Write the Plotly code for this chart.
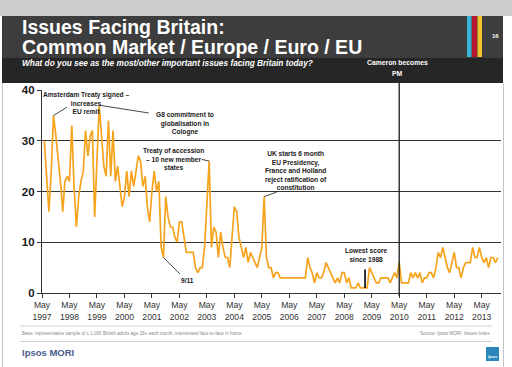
import plotly.graph_objects as go
import pandas as pd

# ---------------- data ----------------
START_MONTH = "1997-06-01"
eu_share = [
    30, 22, 16, 24, 35, 31, 27, 22, 16, 22,
    23, 22, 33, 21, 13, 19, 22, 24, 32, 27,
    31, 32, 15, 26, 37, 31, 25, 23, 34, 23,
    32, 22, 25, 21, 17, 19, 24, 19, 24, 21,
    24, 27, 26, 21, 23, 17, 14, 20, 24, 20,
    22, 9, 7, 19, 15, 13, 13, 11, 10, 14,
    14, 11, 8, 8, 8, 8, 5, 4, 5, 5,
    9, 18, 26, 9, 13, 12, 7, 12, 9, 7,
    7, 5, 11, 17, 16, 11, 9, 7, 9, 6,
    8, 7, 6, 5, 7, 9, 19, 7, 5, 5,
    3, 4, 4, 3, 3, 3, 3, 3, 3, 3,
    3, 3, 3, 3, 3, 7, 5, 4, 2, 4,
    3, 3, 4, 6, 5, 4, 3, 2, 3, 2,
    4, 4, 2, 3, 1, 1, 1, 2, 1, 1,
    1, 1, 5, 4, 3, 2, 2, 3, 3, 3,
    3, 2, 3, 4, 3, 6, 2, 2, 2, 2,
    4, 3, 4, 3, 4, 2, 3, 3, 4, 4,
    3, 5, 8, 7, 9, 7, 5, 4, 6, 8,
    5, 5, 3, 5, 6, 6, 6, 9, 7, 7,
    9, 7, 6, 7, 5, 7, 7, 6, 7,
]
tick_years = list(range(1997, 2014))
tick_dates = [f"{y}-05-01" for y in tick_years]
tick_labels = [f"May<br>{y}" for y in tick_years]
y_ticks = [0, 10, 20, 30, 40]
CAMERON_DATE = "2010-05-01"

dates = pd.date_range(START_MONTH, periods=len(eu_share), freq="MS")

# ---------------- figure ----------------
W, H = 512, 367
ML, MR, MT, MB = 42, 11, 90, 74
PW, PH = W - ML - MR, H - MT - MB


def px(x):
    return (x - ML) / PW


def py(y):
    return (H - MB - y) / PH


FONT = "Liberation Sans, Arial, sans-serif"
ORANGE = "#F6A31E"

fig = go.Figure()
fig.add_trace(go.Scatter(
    x=dates, y=eu_share, mode="lines",
    line=dict(color=ORANGE, width=1.7), hoverinfo="skip", showlegend=False,
))

shapes = []
# page decoration
shapes.append(dict(type="rect", xref="paper", yref="paper",
                   x0=px(-5), x1=px(520), y0=py(16), y1=py(-5),
                   fillcolor="#cdcdcd", line_width=0, layer="below"))
shapes.append(dict(type="rect", xref="paper", yref="paper",
                   x0=px(2), x1=px(503), y0=py(58), y1=py(16),
                   fillcolor="#3d3d3d", line_width=0, layer="below"))
shapes.append(dict(type="rect", xref="paper", yref="paper",
                   x0=px(2), x1=px(503), y0=py(83), y1=py(58),
                   fillcolor="#262626", line_width=0, layer="below"))
for x0, x1, c in [(467, 471.5, "#3BB3D6"), (472, 477, "#B5172F"), (477.5, 482, "#F2C12E")]:
    shapes.append(dict(type="rect", xref="paper", yref="paper",
                       x0=px(x0), x1=px(x1), y0=py(57), y1=py(16),
                       fillcolor=c, line_width=0))
# side borders
shapes.append(dict(type="line", xref="paper", yref="paper",
                   x0=px(2.5), x1=px(2.5), y0=py(367), y1=py(83),
                   line=dict(color="#c4c4c4", width=1)))
shapes.append(dict(type="line", xref="paper", yref="paper",
                   x0=px(503.5), x1=px(503.5), y0=py(367), y1=py(83),
                   line=dict(color="#c4c4c4", width=1)))
# footer separators
for yy in (326, 341.5):
    shapes.append(dict(type="line", xref="paper", yref="paper",
                       x0=px(20), x1=px(492), y0=py(yy), y1=py(yy),
                       line=dict(color="#cfcfcf", width=1)))
# Ipsos logo block
shapes.append(dict(type="rect", xref="paper", yref="paper",
                   x0=px(486), x1=px(499), y0=py(361), y1=py(347),
                   fillcolor="#2a86b8", line_width=0))
# Cameron line
shapes.append(dict(type="line", xref="x", yref="paper",
                   x0=CAMERON_DATE, x1=CAMERON_DATE, y0=py(296), y1=py(83),
                   line=dict(color="#1a1a1a", width=1.3)))

ann = []


def txt(x, y, s, size, color="#1a1a1a", bold=True, italic=False, xa="center", fam=FONT):
    if bold:
        s = f"<b>{s}</b>"
    if italic:
        s = f"<i>{s}</i>"
    ann.append(dict(xref="paper", yref="paper", x=px(x), y=py(y), text=s,
                    showarrow=False, xanchor=xa, yanchor="middle",
                    font=dict(family=fam, size=size, color=color)))


# header texts
txt(20, 27, "Issues Facing Britain:", 19.5, "white", xa="left")
txt(20, 46.5, "Common Market / Europe / Euro / EU", 19.5, "white", xa="left")
txt(20, 63, "What do you see as the most/other important issues facing Britain today?",
    8.3, "white", italic=True, xa="left")
txt(397, 62.5, "Cameron becomes", 6.8, "white")
txt(397, 73.5, "PM", 6.8, "white")
txt(495, 36, "16", 6, "white")

# event annotation texts
txt(86, 103, "Amsterdam Treaty signed –<br>increases<br>EU remit", 6.6)
txt(185, 123.5, "G8 commitment to<br>globalisation in<br>Cologne", 6.6)
txt(173, 159, "Treaty of accession<br>– 10 new member<br>states", 6.6)
txt(296, 170, "UK starts 6 month<br>EU Presidency,<br>France and Holland<br>reject ratification of<br>constitution", 6.6)
txt(187, 280, "9/11", 6.6)
txt(366, 254.5, "Lowest score<br>since 1988", 6.6)

# footer texts
txt(20, 333.5, "Base: representative sample of c.1,000 British adults age 18+ each month, interviewed face-to-face in home",
    4.6, "#8a8a8a", bold=False, xa="left")
txt(492, 333.5, "Source: Ipsos MORI  Issues Index", 4.6, "#8a8a8a", bold=False, xa="right")
txt(20, 352, "Ipsos MORI", 9.5, "#4a5c8c", xa="left")
txt(492.5, 357, "Ipsos", 3.5, "white")


# leader lines anchored at data points
def leader(i, ax, ay, color="#333333", width=0.9):
    ann.append(dict(x=dates[i], y=eu_share[i], xref="x", yref="y", text="",
                    showarrow=True, arrowhead=0, arrowwidth=width, arrowcolor=color,
                    ax=ax, ay=ay, standoff=0, startstandoff=0))


leader(4, 15, -9)
leader(24, 51, 8)
leader(72, -9, -2)
leader(96, 14, -5)
leader(52, 18, 18)
leader(140, 0, -20, color="#000000", width=1.6)

fig.update_layout(
    width=W, height=H,
    margin=dict(l=ML, r=MR, t=MT, b=MB, pad=0),
    paper_bgcolor="white", plot_bgcolor="white",
    shapes=shapes, annotations=ann,
    font=dict(family=FONT),
    xaxis=dict(
        type="date", range=["1997-05-01", "2014-01-13"],
        tickmode="array", tickvals=tick_dates, ticktext=tick_labels,
        ticks="outside", ticklen=4, tickwidth=1, tickcolor="#333333",
        tickfont=dict(size=8.6, color="#333333", family=FONT),
        showgrid=False, showline=True, linecolor="#333333", linewidth=1.2,
        zeroline=False,
    ),
    yaxis=dict(
        range=[0, 40], tickvals=y_ticks, ticktext=[f"<b>{v}</b>" for v in y_ticks],
        ticks="outside", ticklen=4, tickcolor="#333333",
        tickfont=dict(size=11.5, color="#1a1a1a", family=FONT),
        showgrid=True, gridcolor="#333333", gridwidth=1.2,
        showline=True, linecolor="#333333", linewidth=1.2,
        zeroline=False,
    ),
)

fig.write_html(
    "out.html",
    config={"displayModeBar": False},
    post_script="document.body.style.margin='0';document.body.style.overflow='hidden';",
)
